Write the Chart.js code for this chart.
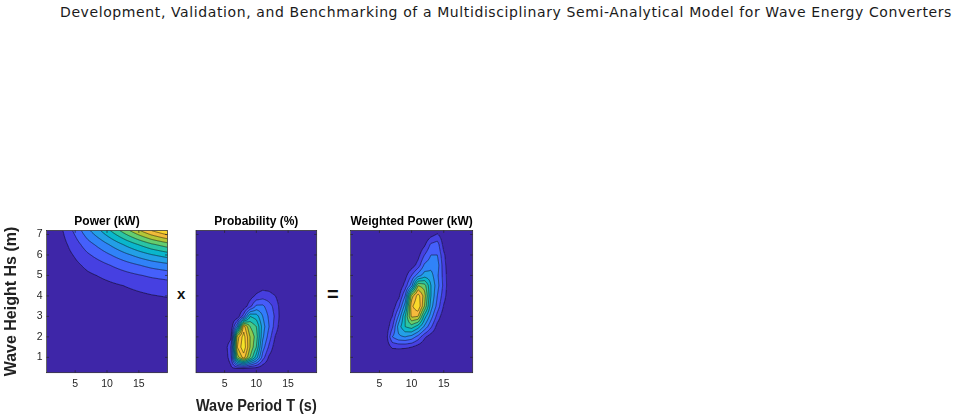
<!DOCTYPE html>
<html>
<head>
<meta charset="utf-8">
<script src="https://cdn.jsdelivr.net/npm/chart.js@4.4.0/dist/chart.umd.min.js"></script>
<style>
  html, body { margin: 0; padding: 0; background: #fff; }
  body { width: 958px; height: 420px; position: relative; overflow: hidden; font-family: "Liberation Sans", Arial, sans-serif; }
  #header { position: absolute; left: 60px; top: 4px; white-space: nowrap; font-family: "DejaVu Sans", sans-serif; font-size: 14px; line-height: 16px; color: #1a1a1a; }
  canvas { position: absolute; }
  .op { position: absolute; font-weight: bold; color: #111; line-height: 1; }
</style>
</head>
<body>
<div id="header">Development, Validation, and Benchmarking of a Multidisciplinary Semi-Analytical Model for Wave Energy Converters</div>
<canvas id="power" width="172" height="215" style="left:0px;top:205px"></canvas>
<canvas id="prob" width="135" height="215" style="left:186px;top:205px"></canvas>
<canvas id="weighted" width="138" height="215" style="left:340px;top:205px"></canvas>
<div class="op" style="left:177px;top:286px;font-size:15px">x</div>
<div class="op" style="left:327px;top:284px;font-size:20px">=</div>
<script>
// sea-state bins
const periods = [1, 2, 3, 4, 5, 6, 7, 8, 9, 10, 11, 12, 13, 14, 15, 16, 17, 18, 19];
const heights = [0.5, 1, 1.5, 2, 2.5, 3, 3.5, 4, 4.5, 5, 5.5, 6, 6.5, 7];
const powerPeriods = [1, 3, 5, 7, 9, 11, 13, 15, 17, 19];
const periodTicks = [5, 10, 15];
const heightTicks = [1, 2, 3, 4, 5, 6, 7];

// power matrix (kW), rows = heights, cols = powerPeriods
const powerKW = [
  [0, 0, 0, 0, 0, 0, 0, 0, 0, 0],
  [0.01, 0.05, 0.12, 0.2, 0.27, 0.34, 0.41, 0.47, 0.53, 0.58],
  [0.02, 0.2, 0.48, 0.8, 1.06, 1.34, 1.62, 1.88, 2.12, 2.3],
  [0.05, 0.45, 1.08, 1.8, 2.39, 3.02, 3.65, 4.23, 4.77, 5.18],
  [0.09, 0.9, 2.16, 3.6, 4.77, 6.03, 7.29, 8.46, 9.54, 10.35],
  [0.17, 1.65, 3.96, 6.6, 8.75, 11.06, 13.37, 15.51, 17.49, 18.98],
  [0.28, 2.8, 6.72, 11.2, 14.84, 18.76, 22.68, 26.32, 29.68, 32.2],
  [0.45, 4.5, 10.8, 18, 23.85, 30.15, 36.45, 42.3, 47.7, 51.75],
  [0.64, 6.4, 15.36, 25.6, 33.92, 42.88, 51.84, 60.16, 67.84, 73.6],
  [1.03, 10.25, 24.6, 41, 54.33, 68.68, 83.03, 96.35, 108.65, 117.88],
  [1.58, 15.75, 37.8, 63, 83.48, 105.53, 127.58, 148.05, 166.95, 181.13],
  [2.33, 23.25, 55.8, 93, 123.23, 155.78, 188.33, 218.55, 246.45, 267.38],
  [3.2, 32, 76.8, 128, 169.6, 214.4, 259.2, 300.8, 339.2, 368],
  [4.3, 43, 103.2, 172, 227.9, 288.1, 348.3, 404.2, 455.8, 494.5]
];
const powerLevels = [50, 100, 150, 200, 250, 300, 350, 400, 450, 500, 550];

// occurrence probability (%), rows = heights, cols = periods
const probability = [
  [0, 0, 0, 0, 0.06, 0.24, 0.48, 0.54, 0.39, 0.3, 0.12, 0.03, 0, 0, 0, 0, 0, 0, 0],
  [0, 0, 0, 0, 0.09, 0.48, 2.55, 3.15, 2.4, 1.65, 0.75, 0.24, 0.03, 0, 0, 0, 0, 0, 0],
  [0, 0, 0, 0, 0.09, 0.6, 3.0, 3.54, 2.7, 2.1, 1.05, 0.54, 0.12, 0, 0, 0, 0, 0, 0],
  [0, 0, 0, 0, 0.03, 0.18, 2.85, 3.45, 2.7, 2.25, 1.26, 0.75, 0.27, 0.06, 0, 0, 0, 0, 0],
  [0, 0, 0, 0, 0, 0.03, 1.2, 3.15, 2.4, 2.1, 1.35, 0.9, 0.45, 0.09, 0, 0, 0, 0, 0],
  [0, 0, 0, 0, 0, 0, 0.06, 0.75, 1.8, 1.65, 1.2, 0.84, 0.54, 0.12, 0, 0, 0, 0, 0],
  [0, 0, 0, 0, 0, 0, 0, 0.09, 0.48, 0.96, 0.96, 0.72, 0.48, 0.12, 0, 0, 0, 0, 0],
  [0, 0, 0, 0, 0, 0, 0, 0, 0.15, 0.36, 0.45, 0.42, 0.3, 0.06, 0, 0, 0, 0, 0],
  [0, 0, 0, 0, 0, 0, 0, 0, 0, 0.09, 0.18, 0.15, 0.06, 0, 0, 0, 0, 0, 0],
  [0, 0, 0, 0, 0, 0, 0, 0, 0, 0, 0, 0, 0, 0, 0, 0, 0, 0, 0],
  [0, 0, 0, 0, 0, 0, 0, 0, 0, 0, 0, 0, 0, 0, 0, 0, 0, 0, 0],
  [0, 0, 0, 0, 0, 0, 0, 0, 0, 0, 0, 0, 0, 0, 0, 0, 0, 0, 0],
  [0, 0, 0, 0, 0, 0, 0, 0, 0, 0, 0, 0, 0, 0, 0, 0, 0, 0, 0],
  [0, 0, 0, 0, 0, 0, 0, 0, 0, 0, 0, 0, 0, 0, 0, 0, 0, 0, 0]
];
const probLevels = [0.3, 0.6, 0.9, 1.2, 1.5, 1.8, 2.1, 2.4, 2.7, 3.0, 3.3];

// weighted power (kW), rows = heights, cols = periods
const weightedKW = [
  [0, 0, 0, 0, 0, 0, 0, 0, 0, 0, 0, 0, 0, 0, 0, 0, 0, 0, 0],
  [0, 0, 0, 0, 0, 0, 0, 0, 0, 0, 0, 0, 0, 0, 0, 0, 0, 0, 0],
  [0, 0, 0, 0, 0, 0.06, 0.23, 0.24, 0.23, 0.2, 0.1, 0.02, 0, 0, 0, 0, 0, 0, 0],
  [0, 0, 0, 0, 0, 0.08, 0.6, 0.76, 0.8, 0.72, 0.52, 0.24, 0.08, 0, 0, 0, 0, 0, 0],
  [0, 0, 0, 0, 0, 0.04, 0.36, 0.9, 1.2, 1.3, 1.1, 0.76, 0.44, 0.12, 0, 0, 0, 0, 0],
  [0, 0, 0, 0, 0, 0.02, 0.2, 0.64, 1.2, 1.84, 1.8, 1.1, 0.7, 0.32, 0.06, 0, 0, 0, 0],
  [0, 0, 0, 0, 0, 0, 0.06, 0.36, 0.9, 1.95, 2.2, 1.6, 0.9, 0.52, 0.18, 0.02, 0, 0, 0],
  [0, 0, 0, 0, 0, 0, 0, 0.14, 0.6, 1.7, 2.1, 1.7, 1.0, 0.6, 0.28, 0.02, 0, 0, 0],
  [0, 0, 0, 0, 0, 0, 0, 0.02, 0.28, 0.72, 1.6, 1.5, 1.0, 0.68, 0.34, 0.02, 0, 0, 0],
  [0, 0, 0, 0, 0, 0, 0, 0, 0.12, 0.4, 0.7, 0.9, 0.88, 0.64, 0.32, 0.02, 0, 0, 0],
  [0, 0, 0, 0, 0, 0, 0, 0, 0, 0.08, 0.28, 0.64, 0.72, 0.7, 0.28, 0.02, 0, 0, 0],
  [0, 0, 0, 0, 0, 0, 0, 0, 0, 0, 0.12, 0.4, 0.6, 0.6, 0.24, 0, 0, 0, 0],
  [0, 0, 0, 0, 0, 0, 0, 0, 0, 0, 0, 0.16, 0.44, 0.5, 0.12, 0, 0, 0, 0],
  [0, 0, 0, 0, 0, 0, 0, 0, 0, 0, 0, 0, 0.12, 0.22, 0.06, 0, 0, 0, 0]
];
const weightedLevels = [0.2, 0.4, 0.6, 0.8, 1.0, 1.2, 1.4, 1.6, 1.8, 2.0];

const FONT = '"Liberation Sans", Arial, sans-serif';

// parula, every 4th entry of the 64-colour map
const PARULA = [[62,38,168],[69,55,213],[72,77,240],[69,99,253],[50,124,252],[43,145,239],[32,165,227],[8,181,208],
  [25,191,182],[55,200,151],[100,205,111],[157,201,67],[209,191,39],[248,186,61],[252,207,48],[245,233,36],[249,251,21]];
function parula(t) {
  t = Math.min(1, Math.max(0, t)) * 63;
  const i = Math.min(15, Math.floor(t / 4));
  const lo = i * 4, hi = i === 15 ? 63 : lo + 4;
  const f = (t - lo) / (hi - lo);
  const a = PARULA[i], b = PARULA[i + 1];
  return a.map((c, k) => Math.round(c + (b[k] - c) * f));
}

function locate(arr, v) {
  let i = 0;
  while (i < arr.length - 2 && v > arr[i + 1]) i++;
  return [i, (v - arr[i]) / (arr[i + 1] - arr[i])];
}
function sample(grid, xs, ys, x, y) {
  const [i, tx] = locate(xs, x);
  const [j, ty] = locate(ys, y);
  const top = grid[j][i] * (1 - tx) + grid[j][i + 1] * tx;
  const bot = grid[j + 1][i] * (1 - tx) + grid[j + 1][i + 1] * tx;
  return top * (1 - ty) + bot * ty;
}

const panels = {
  power: { grid: powerKW, xs: powerPeriods, levels: powerLevels },
  prob: { grid: probability, xs: periods, levels: probLevels },
  weighted: { grid: weightedKW, xs: periods, levels: weightedLevels }
};

const contourPlugin = {
  id: 'contourf',
  beforeDatasetsDraw(chart) {
    const p = panels[chart.canvas.id];
    const { ctx, chartArea: a, scales: { x, y } } = chart;
    const ss = 2;
    const W = Math.round(a.width * ss), H = Math.round(a.height * ss);
    const vals = new Float32Array(W * H);
    let vmax = -Infinity;
    for (let r = 0; r < H; r++) {
      const hs = y.getValueForPixel(a.top + (r + 0.5) / ss);
      for (let c = 0; c < W; c++) {
        const t = x.getValueForPixel(a.left + (c + 0.5) / ss);
        const v = sample(p.grid, p.xs, heights, t, hs);
        vals[r * W + c] = v;
        if (v > vmax) vmax = v;
      }
    }
    const cols = [parula(0)].concat(p.levels.map(l => parula(l / vmax)));
    const off = document.createElement('canvas');
    off.width = W; off.height = H;
    const octx = off.getContext('2d');
    const img = octx.createImageData(W, H);
    for (let k = 0; k < W * H; k++) {
      let b = 0;
      while (b < p.levels.length && vals[k] >= p.levels[b]) b++;
      const col = cols[b];
      img.data[k * 4] = col[0]; img.data[k * 4 + 1] = col[1]; img.data[k * 4 + 2] = col[2]; img.data[k * 4 + 3] = 255;
    }
    octx.putImageData(img, 0, 0);
    ctx.save();
    ctx.beginPath();
    ctx.rect(a.left, a.top, a.width, a.height);
    ctx.clip();
    ctx.imageSmoothingEnabled = true;
    ctx.drawImage(off, a.left, a.top, a.width, a.height);

    // contour lines (marching squares on the sampled field)
    const px = c => a.left + (c + 0.5) / ss;
    const py = r => a.top + (r + 0.5) / ss;
    ctx.beginPath();
    for (const L of p.levels) {
      for (let r = 0; r < H - 1; r++) {
        for (let c = 0; c < W - 1; c++) {
          const v0 = vals[r * W + c], v1 = vals[r * W + c + 1];
          const v3 = vals[(r + 1) * W + c], v2 = vals[(r + 1) * W + c + 1];
          const pts = [];
          if ((v0 >= L) !== (v1 >= L)) pts.push([c + (L - v0) / (v1 - v0), r]);
          if ((v1 >= L) !== (v2 >= L)) pts.push([c + 1, r + (L - v1) / (v2 - v1)]);
          if ((v3 >= L) !== (v2 >= L)) pts.push([c + (L - v3) / (v2 - v3), r + 1]);
          if ((v0 >= L) !== (v3 >= L)) pts.push([c, r + (L - v0) / (v3 - v0)]);
          for (let k = 0; k + 1 < pts.length; k += 2) {
            ctx.moveTo(px(pts[k][0]), py(pts[k][1]));
            ctx.lineTo(px(pts[k + 1][0]), py(pts[k + 1][1]));
          }
        }
      }
    }
    ctx.strokeStyle = 'rgba(10,10,10,0.85)';
    ctx.lineWidth = 0.6;
    ctx.stroke();
    ctx.restore();
  },
  afterDraw(chart) {
    const { ctx, chartArea: a, scales: { x, y } } = chart;
    ctx.save();
    ctx.strokeStyle = '#262626';
    ctx.lineWidth = 0.7;
    ctx.strokeRect(a.left, a.top, a.width, a.height);
    ctx.beginPath();
    x.ticks.forEach(t => {
      const v = x.getPixelForValue(t.value);
      ctx.moveTo(v, a.bottom); ctx.lineTo(v, a.bottom - 2.5);
      ctx.moveTo(v, a.top); ctx.lineTo(v, a.top + 2.5);
    });
    y.ticks.forEach(t => {
      const v = y.getPixelForValue(t.value);
      ctx.moveTo(a.left, v); ctx.lineTo(a.left + 2.5, v);
      ctx.moveTo(a.right, v); ctx.lineTo(a.right - 2.5, v);
    });
    ctx.stroke();
    ctx.restore();
  }
};

function gridPoints(xs, grid) {
  const pts = [];
  heights.forEach((h, j) => xs.forEach((t, i) => pts.push({ x: t, y: h, v: grid[j][i] })));
  return pts;
}

function makeChart(id, title, cfg) {
  const p = panels[id];
  return new Chart(document.getElementById(id), {
    type: 'scatter',
    data: { datasets: [{ data: gridPoints(p.xs, p.grid), pointRadius: 0, pointHoverRadius: 0 }] },
    options: {
      responsive: false, animation: false, events: [], devicePixelRatio: 1,
      layout: { padding: { left: 0, right: cfg.right, top: 0, bottom: 0 } },
      plugins: {
        legend: { display: false },
        tooltip: { enabled: false },
        title: { display: true, text: title, fullSize: false, color: '#000',
          font: { family: FONT, size: 12, weight: 'bold' }, padding: { top: 9, bottom: 2 } }
      },
      scales: {
        x: {
          type: 'linear', min: 0.5, max: 19.5,
          afterBuildTicks: s => { s.ticks = periodTicks.map(v => ({ value: v })); },
          afterFit: s => { s.height = 47.3; },
          grid: { display: false, drawTicks: false }, border: { display: false },
          ticks: { font: { family: FONT, size: 10.5 }, color: '#262626', padding: 5, maxRotation: 0 },
          title: cfg.xTitle ? { display: true, text: cfg.xTitle, color: '#222',
            font: { family: FONT, size: 16, weight: 'bold' }, padding: { top: 0, bottom: 4 } } : { display: false }
        },
        y: {
          type: 'linear', min: 0.25, max: 7.2,
          afterBuildTicks: s => { s.ticks = heightTicks.map(v => ({ value: v })); },
          afterFit: s => { s.width = cfg.yw; },
          grid: { display: false, drawTicks: false }, border: { display: false },
          ticks: { display: cfg.yLabels, font: { family: FONT, size: 10.5 }, color: '#262626', padding: 4 },
          title: cfg.yTitle ? { display: true, text: cfg.yTitle, color: '#222',
            font: { family: FONT, size: 16, weight: 'bold' }, padding: { top: 2, bottom: 0 } } : { display: false }
        }
      }
    },
    plugins: [contourPlugin]
  });
}

makeChart('power', 'Power (kW)', { right: 4.5, yw: 46.5, yLabels: true, yTitle: 'Wave Height Hs (m)' });
makeChart('prob', 'Probability (%)', { right: 4.3, yw: 10, yLabels: false, xTitle: 'Wave Period T (s)' });
makeChart('weighted', 'Weighted Power (kW)', { right: 5.3, yw: 10.5, yLabels: false });

// stretch the header line to the page width used in the paper
const hdr = document.getElementById('header');
const natural = hdr.getBoundingClientRect().width;
hdr.style.letterSpacing = ((892 - natural) / hdr.textContent.length) + 'px';
</script>
</body>
</html>
